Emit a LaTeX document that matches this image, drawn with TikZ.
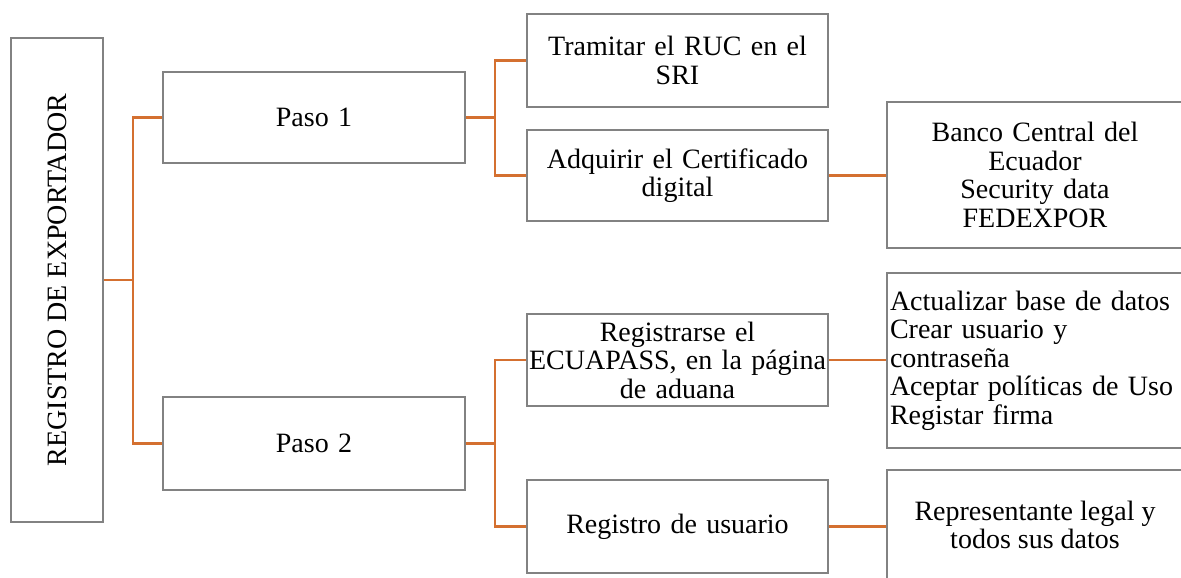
\documentclass[tikz,border=0pt]{standalone}
\usepackage{fontspec}
\setmainfont{Liberation Serif}
\definecolor{linkorange}{RGB}{212,112,48}
\definecolor{boxgray}{RGB}{130,130,130}
\tikzset{
  box/.style={draw=boxgray, line width=1.2pt, inner xsep=0pt, inner ysep=0pt,
    align=center, font=\fontsize{28}{28.5}\selectfont},
  link/.style={draw=linkorange, line width=2.2pt},
}
\begin{document}
\begin{tikzpicture}[x=1pt,y=-1pt]
\useasboundingbox (0,0) rectangle (1181,578);
\node[box, minimum width=92pt, minimum height=484pt] (root) at (57,280) {\rotatebox{90}{REGISTRO DE EXPORTADOR}};
\node[box, text width=302pt, minimum height=91pt] (paso1) at (314,117.5) {Paso 1};
\node[box, text width=302pt, minimum height=93pt] (paso2) at (314,443.5) {Paso 2};
\node[box, text width=301pt, minimum height=93pt] (ruc) at (677.5,60.5) {Tramitar el RUC en el\\SRI};
\node[box, text width=301pt, minimum height=91pt] (cert) at (677.5,175.5) {Adquirir el Certificado\\digital};
\node[box, text width=296pt, minimum height=146pt] (banco) at (1035,175) {Banco Central del\\Ecuador\\Security data\\FEDEXPOR};
\node[box, text width=301pt, minimum height=92pt] (ecua) at (677.5,360) {Registrarse el\\ECUAPASS, en la página\\de aduana};
\node[box, text width=290pt, inner xsep=3pt, minimum height=175pt, align=left] (pasos) at (1035,360.5) {Actualizar base de datos\\Crear usuario y\\contraseña\\Aceptar políticas de Uso\\Registar firma};
\node[box, text width=301pt, minimum height=93pt] (usuario) at (677.5,526.5) {Registro de usuario};
\node[box] (rep) at (1035,526) {\parbox[c][112pt][t]{296pt}{\centering\vspace*{31pt}Representante legal y\\todos sus datos}};
\coordinate (t0) at (133,280);
\coordinate (t1) at (495,117.5);
\coordinate (t2) at (495,443.5);
\draw[link] (root.east) -- (t0);
\draw[link] (paso1.west) -| (t0) |- (paso2.west);
\draw[link] (paso1.east) -- (t1);
\draw[link] (ruc.west) -| (t1) |- (cert.west);
\draw[link] (paso2.east) -- (t2);
\draw[link] (ecua.west) -| (t2) |- (usuario.west);
\draw[link] (cert.east) -- (cert.east -| banco.west);
\draw[link] (ecua.east) -- (ecua.east -| pasos.west);
\draw[link] (usuario.east) -- (usuario.east -| rep.west);
\end{tikzpicture}
\end{document}
